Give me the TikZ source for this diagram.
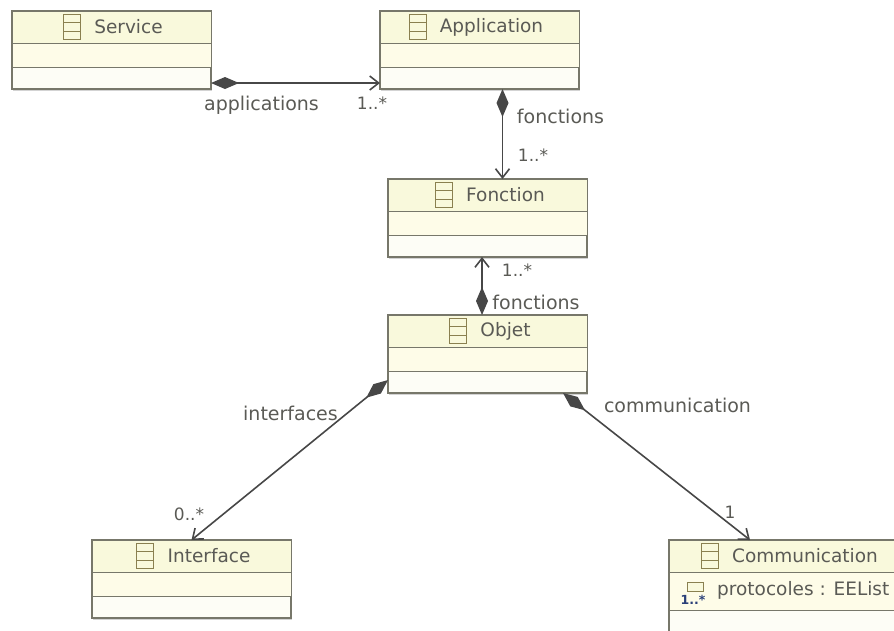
\documentclass[tikz,border=0pt]{standalone}
\usepackage{fontspec}
\setmainfont{DejaVu Sans}
\usetikzlibrary{positioning,arrows.meta,shapes.multipart,shadows}
\definecolor{umlline}{HTML}{77776A}
\definecolor{umlhead}{HTML}{F9F9DC}
\definecolor{umlattr}{HTML}{FEFCE8}
\definecolor{umlops}{HTML}{FDFDF6}
\definecolor{umltext}{HTML}{5A5A55}
\definecolor{umlicon}{HTML}{8A8050}
\definecolor{umlblue}{HTML}{2A3F78}
\tikzset{
  classbox/.style={draw=umlline, line width=1.2pt, fill=umlops, inner sep=0pt, outer sep=0pt, anchor=north west,
    drop shadow={shadow xshift=0.5pt, shadow yshift=-1.5pt, opacity=0.35}},
  classpart/.style={draw=umlline, line width=1pt, inner sep=0pt, outer sep=0pt},
  classtitle/.style={text=umltext, font=\fontsize{18.5}{21}\selectfont, inner sep=0pt},
  classicon/.style={rectangle split, rectangle split parts=3, draw=umlicon, line width=1.1pt, inner xsep=0pt, inner ysep=0.8pt,
    minimum width=17pt, font=\fontsize{8}{8}\selectfont},
  assoclabel/.style={text=umltext, font=\fontsize{19}{21}\selectfont, inner sep=0pt},
  multlabel/.style={text=umltext, font=\fontsize{17}{19}\selectfont, inner sep=0pt},
  composition/.style={draw=black!72, line width=1.6pt,
    {Diamond[length=28pt,width=12pt]}-{Straight Barb[length=9pt,width=14pt]}},
}
\begin{document}
\begin{tikzpicture}[x=1pt, y=-1pt]
    \useasboundingbox (0, 0) rectangle (894, 630);
    \clip (0, 0) rectangle (894, 630);

    % name / left / top / width / height / attribute part / shift of title / title
    \foreach \name/\x/\y/\w/\h/\a/\s/\title in {
        service/12/11/199/78/24/17/Service,
        application/380/11/199/78/24/12/Application,
        fonction/388/179/199/78/24/18/Fonction,
        objet/388/315/199/78/24/18/Objet,
        interface/92/540/199/78/24/17.5/Interface,
        communication/669/540/240/110/38/16/Communication} {
      \node[classbox, minimum width=\w pt, minimum height=\h pt] at (\x, \y) (\name) {};
      \node[classpart, fill=umlhead, minimum width=\w pt, minimum height=32pt, below=0pt of \name.north] (\name-head) {};
      \node[classpart, fill=umlattr, minimum width=\w pt, minimum height=\a pt, below=0pt of \name-head] (\name-attrs) {};
      \node[classtitle] at ([xshift=\s pt]\name-head.center) (\name-title) {\title};
      \node[classicon, left=13pt of \name-title] (\name-icon) {\nodepart{two}\nodepart{three}};
    }

    % attribute of Communication
    \node[classtitle, anchor=west] at (717, 590) (protocoles) {protocoles : EEList};
    \node[draw=umlicon, fill=umlhead, line width=1pt, minimum width=16pt, minimum height=9pt, inner sep=0pt] at (695, 587) (protocoles-icon) {};
    \node[text=umlblue, font=\bfseries\fontsize{12.5}{13}\selectfont, inner sep=0pt] at (693, 600) (protocoles-mult) {1..*};

    % associations
    \draw[composition] ([yshift=6pt]service.south east) -- ([yshift=6pt]application.south west |- service.south east);
    \draw[composition] ([xshift=23pt]application.south) -- ([xshift=15pt]fonction.north);
    \draw[composition] ([xshift=-5.5pt]objet.north) -- ([xshift=-5.5pt]fonction.south);
    \draw[composition] ([yshift=13pt]objet.south west) -- (interface.north);
    \draw[composition] ([xshift=-24pt]objet.south east) -- ([xshift=81pt]communication.north west);

    % labels
    \node[assoclabel] at (261.5, 105) (applications) {applications};
    \node[multlabel] at (372, 103) (applications-mult) {1..*};
    \node[assoclabel] at (560.5, 116) (fonctions-up) {fonctions};
    \node[multlabel] at (533, 155) (fonctions-up-mult) {1..*};
    \node[multlabel] at (517, 270) (fonctions-down-mult) {1..*};
    \node[assoclabel] at (536, 302) (fonctions-down) {fonctions};
    \node[assoclabel] at (290.5, 413) (interfaces) {interfaces};
    \node[multlabel] at (189, 514) (interfaces-mult) {0..*};
    \node[assoclabel] at (677.5, 405) (communication-role) {communication};
    \node[multlabel] at (730, 512) (communication-mult) {1};
\end{tikzpicture}
\end{document}
